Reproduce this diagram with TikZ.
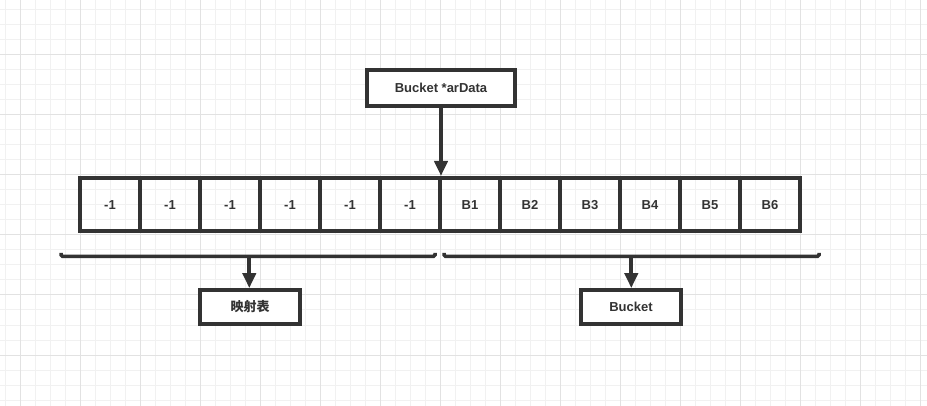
\documentclass[tikz,border=0pt]{standalone}
\usepackage{fontspec}
\setmainfont{Liberation Sans}
\newfontfamily\cjk{Noto Sans CJK SC}
\usetikzlibrary{arrows.meta}
\definecolor{ink}{HTML}{333333}
\definecolor{gridminor}{HTML}{F1F1F1}
\definecolor{gridmajor}{HTML}{E2E2E2}
\tikzset{
  cellbox/.style={draw=ink, line width=4pt, minimum width=60pt, minimum height=53pt, inner sep=0pt, text height=9.4pt, text depth=0pt, font=\fontsize{13}{15}\selectfont\bfseries, text=ink},
  labelbox/.style={draw=ink, line width=4pt, minimum width=100pt, minimum height=33.7pt, inner sep=0pt, font=\fontsize{13}{15}\selectfont\bfseries, text=ink, fill=white},
  conn/.style={draw=ink, line width=4pt, -{Triangle[length=15pt,width=13pt]}},
  bracel/.style={draw=ink, line width=3.5pt, rounded corners=1.5pt}
}
\begin{document}
\begin{tikzpicture}[x=1pt,y=-1pt]
\useasboundingbox (0,0) rectangle (927,406);
\fill[white] (0,0) rectangle (927,406);
% grid
\foreach \x in {5,20,...,927} \draw[gridminor, line width=1pt] (\x,0) -- (\x,406);
\foreach \y in {10,25,...,406} \draw[gridminor, line width=1pt] (0,\y) -- (927,\y);
\foreach \x in {20,80,...,927} \draw[gridmajor, line width=1pt] (\x,0) -- (\x,406);
\foreach \y in {55,115,...,406} \draw[gridmajor, line width=1pt] (0,\y) -- (927,\y);
% top box
\node[labelbox, minimum width=148pt, minimum height=35.5pt] (top) at (441,88.25) {Bucket *arData};
% cells
\foreach \t [count=\i] in {-1,-1,-1,-1,-1,-1,B1,B2,B3,B4,B5,B6}
  \node[cellbox] (c\i) at ({80+60*(\i-0.5)},204.5) {\t};
\draw[conn] (top.south) -- (top.south |- c7.north);
% braces
\coordinate (lbA) at (61,253);
\coordinate (lbB) at (435,253);
\coordinate (lbM) at (249.3,256.3);
\coordinate (rbA) at (444,253);
\coordinate (rbB) at (819,253);
\coordinate (rbM) at (631.3,256.3);
\draw[bracel] (lbA) -- (lbA |- lbM) -- (lbB |- lbM) -- (lbB);
\draw[bracel] (rbA) -- (rbA |- rbM) -- (rbB |- rbM) -- (rbB);
% bottom boxes
\node[labelbox] (map) at (250,307) {\cjk\bfseries 映射表};
\node[labelbox] (bucket) at (631,307) {Bucket};
\draw[conn] (lbM) -- (lbM |- map.north);
\draw[conn] (rbM) -- (rbM |- bucket.north);
\end{tikzpicture}
\end{document}
